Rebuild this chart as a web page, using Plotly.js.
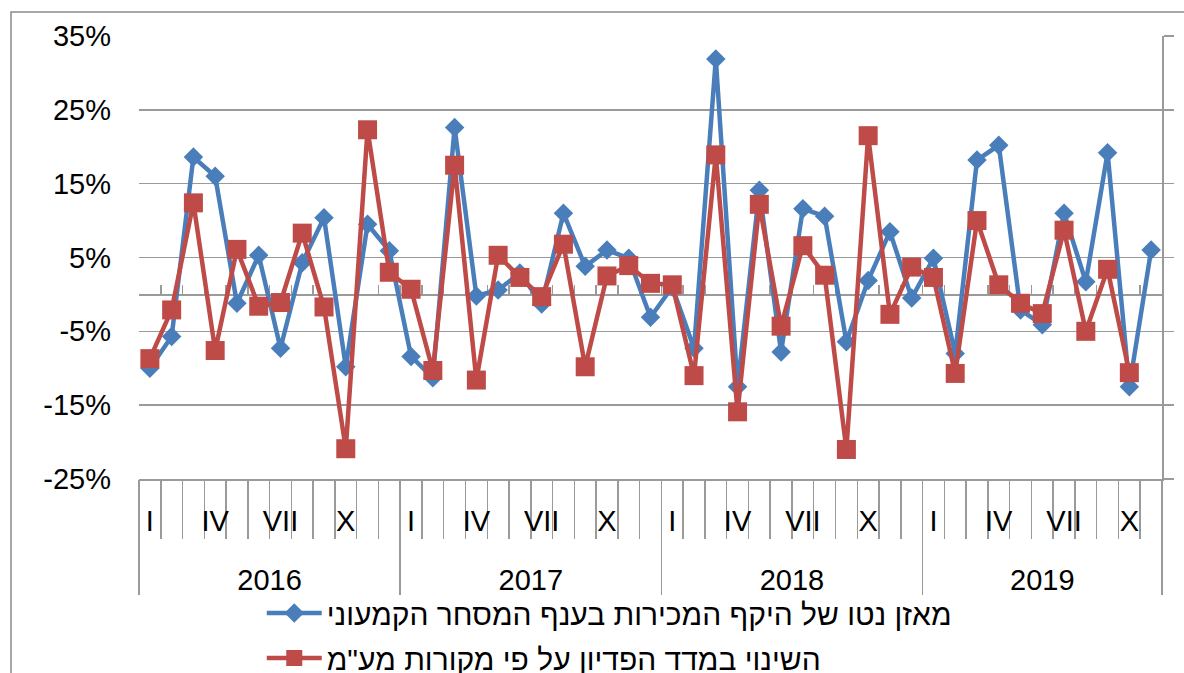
<!DOCTYPE html>
<html><head><meta charset="utf-8">
<script src="https://cdn.plot.ly/plotly-3.0.1.min.js"></script>
<style>html,body{margin:0;padding:0;background:#fff;} #chart{width:1184px;height:673px;}</style>
</head><body><div id="chart"></div>
<script>
const years = ["2016", "2017", "2018", "2019"];
const monthsPerYear = [12, 12, 12, 11];
const monthLabels = ["I", "", "", "IV", "", "", "VII", "", "", "X", "", ""];
const seriesNames = ["מאזן נטו של היקף המכירות בענף המסחר הקמעוני", "השינוי במדד הפדיון על פי מקורות מע\"מ"];
const salesBalance = [
  -10.0, -5.7, 18.6, 16.0, -1.2, 5.3, -7.3, 4.3, 10.4, -9.8, 9.5, 5.9,
  -8.4, -11.3, 22.6, -0.2, 0.6, 2.9, -1.3, 11.0, 3.8, 6.0, 4.9, -3.1,
  1.0, -7.3, 31.9, -12.5, 14.1, -7.8, 11.6, 10.6, -6.4, 1.9, 8.5, -0.5,
  4.9, -8.0, 18.2, 20.2, -2.1, -4.1, 11.0, 1.7, 19.2, -12.5, 6.0
];
const revenueIndex = [
  -8.7, -2.1, 12.4, -7.6, 6.1, -1.6, -1.1, 8.3, -1.7, -20.9, 22.3, 3.0,
  0.7, -10.3, 17.5, -11.6, 5.3, 2.3, -0.3, 6.8, -9.8, 2.5, 3.9, 1.5,
  1.3, -11.0, 18.9, -15.9, 12.2, -4.3, 6.6, 2.6, -21.0, 21.5, -2.7, 3.7,
  2.3, -10.7, 10.0, 1.3, -1.2, -2.6, 8.7, -5.0, 3.4, -10.6
];
const yTickVals = [-25, -15, -5, 5, 15, 25, 35];
const yTickText = ["-25%", "-15%", "-5%", "5%", "15%", "25%", "35%"];
const yRange = [-25, 35];

// category structure
const catYear = [], catMonth = [];
years.forEach((y, k) => { for (let m = 0; m < monthsPerYear[k]; m++) { catYear.push(y); catMonth.push(monthLabels[m]); } });
const nCat = catYear.length;
const idx = catYear.map((_, i) => i);
const boundaries = []; for (let i = 0; i <= nCat; i++) boundaries.push(i - 0.5);
const yearBounds = [-0.5]; let acc = 0; monthsPerYear.forEach(n => { acc += n; yearBounds.push(acc - 0.5); });
const yearCenters = yearBounds.slice(0, -1).map((b, k) => (b + yearBounds[k + 1]) / 2);
const monthTickVals = idx.filter(i => catMonth[i] !== "");
const monthTickText = monthTickVals.map(i => catMonth[i]);
const xr = [-0.5, nCat - 0.5];

const FONT = "Liberation Sans, Arial, sans-serif";
const GRID = "#9a9a9a";
const BLUE = "#4A7EBB", RED = "#BE4B48";

const traces = [
  { x: idx.slice(0, salesBalance.length), y: salesBalance, name: seriesNames[0], type: "scatter", mode: "lines+markers",
    legendgroup: "a", line: { color: BLUE, width: 4.5 }, marker: { symbol: "diamond", size: 15, color: BLUE } },
  { x: idx.slice(0, revenueIndex.length), y: revenueIndex, name: seriesNames[1], type: "scatter", mode: "lines+markers",
    legendgroup: "b", line: { color: RED, width: 4.5 }, marker: { symbol: "square", size: 19, color: RED } }
];
// empty helper traces so that the overlay axes (ticks / labels only) get drawn
[["x2", "y"], ["x3", "y"], ["x4", "y"], ["x5", "y"], ["x", "y2"]].forEach(([xa, ya]) => {
  traces.push({ x: [], y: [], xaxis: xa, yaxis: ya, type: "scatter", mode: "lines", showlegend: false, hoverinfo: "skip" });
});

const common = { range: xr, showgrid: false, zeroline: false, fixedrange: true, automargin: false };
const layout = {
  width: 1184, height: 673,
  margin: { l: 139, r: 22, t: 36, b: 194, autoexpand: false },
  paper_bgcolor: "#fff", plot_bgcolor: "rgba(0,0,0,0)",
  font: { family: FONT, size: 29, color: "#000" },
  showlegend: true,
  legend: { x: 0.12, y: -0.244, xanchor: "left", yanchor: "top", orientation: "v", traceorder: "grouped", tracegroupgap: 3,
            font: { family: FONT, size: 30, color: "#000" }, bgcolor: "rgba(0,0,0,0)", itemwidth: 55 },
  xaxis: Object.assign({}, common, { anchor: "y", tickmode: "array", tickvals: boundaries, ticks: "outside", ticklen: 58,
    tickcolor: GRID, tickwidth: 1.5, showticklabels: false, showline: true, linecolor: GRID, linewidth: 1.5 }),
  xaxis2: Object.assign({}, common, { overlaying: "x", anchor: "y", tickmode: "array", tickvals: yearBounds, ticks: "outside",
    ticklen: 115, tickcolor: GRID, tickwidth: 1.5, showticklabels: false, showline: false }),
  xaxis3: Object.assign({}, common, { overlaying: "x", anchor: "y", tickmode: "array", tickvals: monthTickVals, ticktext: monthTickText,
    ticks: "", ticklabelstandoff: 22, tickfont: { family: FONT, size: 29, color: "#000" }, showline: false }),
  xaxis4: Object.assign({}, common, { overlaying: "x", anchor: "y", tickmode: "array", tickvals: yearCenters, ticktext: years,
    ticks: "", ticklabelstandoff: 81, tickfont: { family: FONT, size: 29, color: "#000" }, showline: false }),
  xaxis5: Object.assign({}, common, { overlaying: "x", anchor: "free", position: (0 - yRange[0]) / (yRange[1] - yRange[0]),
    tickmode: "array", tickvals: boundaries, ticks: "inside", ticklen: 9, tickcolor: GRID, tickwidth: 1.5,
    showticklabels: false, showline: true, linecolor: GRID, linewidth: 1.5, layer: "below traces" }),
  yaxis: { range: yRange, tickmode: "array", tickvals: yTickVals, ticktext: yTickText, showgrid: true, gridcolor: GRID, gridwidth: 1.5,
    zeroline: false, ticks: "", showline: false, ticklabelstandoff: 27, fixedrange: true, automargin: false,
    tickfont: { family: FONT, size: 29, color: "#000" } },
  yaxis2: { overlaying: "y", side: "right", anchor: "x", range: yRange, tickmode: "array", tickvals: yTickVals, showgrid: false, zeroline: false,
    showline: true, linecolor: GRID, linewidth: 1.5, ticks: "outside", ticklen: 10, tickcolor: GRID, tickwidth: 1.5,
    showticklabels: false, fixedrange: true, automargin: false },
  shapes: [
    { type: "rect", xref: "paper", yref: "paper", x0: (11 - 139) / 1023, x1: 1.1, y0: -0.6, y1: (479 - 12) / 443,
      line: { color: "#8a8a8a", width: 1.5 }, fillcolor: "rgba(0,0,0,0)", layer: "below" }
  ]
};

Plotly.newPlot("chart", traces, layout, { displayModeBar: false, staticPlot: true });
</script>
</body></html>
